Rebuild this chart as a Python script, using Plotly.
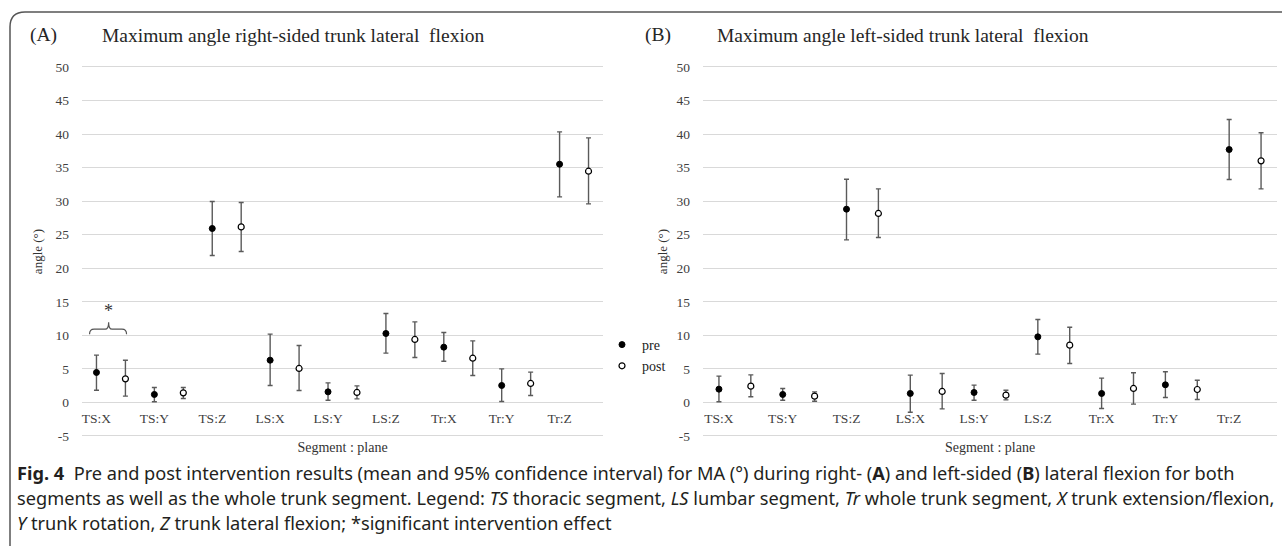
import plotly.graph_objects as go

W, H = 1282, 546

categories = ["TS:X", "TS:Y", "TS:Z", "LS:X", "LS:Y", "LS:Z", "Tr:X", "Tr:Y", "Tr:Z"]
y_ticks = [-5, 0, 5, 10, 15, 20, 25, 30, 35, 40, 45, 50]
y_tick_labels = ["-5", "0", "5", "10", "15", "20", "25", "30", "35", "40", "45", "50"]

# Panel A: right-sided lateral flexion (mean, upper and lower 95% CI)
a_pre_mean = [4.47, 1.19, 25.93, 6.30, 1.58, 10.28, 8.24, 2.53, 35.51]
a_pre_upper = [7.05, 2.24, 29.95, 10.18, 2.92, 13.26, 10.43, 5.01, 40.33]
a_pre_lower = [1.83, 0.10, 21.90, 2.53, 0.34, 7.35, 6.15, 0.15, 30.64]
a_post_mean = [3.52, 1.43, 26.17, 5.07, 1.49, 9.39, 6.60, 2.83, 34.47]
a_post_upper = [6.30, 2.24, 29.80, 8.49, 2.47, 12.01, 9.18, 4.52, 39.43]
a_post_lower = [0.94, 0.60, 22.50, 1.79, 0.54, 6.71, 4.02, 1.04, 29.60]

# Panel B: left-sided lateral flexion
b_pre_mean = [1.98, 1.19, 28.81, 1.34, 1.49, 9.78, 1.34, 2.63, 37.70]
b_pre_upper = [3.92, 2.09, 33.28, 4.07, 2.58, 12.37, 3.62, 4.57, 42.18]
b_pre_lower = [0.10, 0.34, 24.23, -1.45, 0.34, 7.20, -0.90, 0.74, 33.23]
b_post_mean = [2.43, 0.94, 28.17, 1.64, 1.09, 8.54, 2.09, 1.93, 36.01]
b_post_upper = [4.11, 1.58, 31.84, 4.32, 1.83, 11.22, 4.42, 3.32, 40.19]
b_post_lower = [0.84, 0.19, 24.59, -0.95, 0.39, 5.81, -0.25, 0.44, 31.84]

SERIF = "Liberation Serif, Times New Roman, serif"
SANS = "Noto Sans, Open Sans, sans-serif"
GRID = "#d9d9d9"
TXT = "#404040"
ERR = "#5a5a5a"


def px(p):
    return p / W


def py(p):
    return 1 - p / H


pos_pre = list(range(len(categories)))
pos_post = [i + 0.5 for i in pos_pre]


def err(mean, upper, lower):
    return dict(type="data", symmetric=False,
                array=[u - m for u, m in zip(upper, mean)],
                arrayminus=[m - l for m, l in zip(mean, lower)],
                color=ERR, thickness=1.4, width=2.5)


fig = go.Figure()
for xa, ya, pre_m, pre_u, pre_l, post_m, post_u, post_l, show in [
    ("x", "y", a_pre_mean, a_pre_upper, a_pre_lower, a_post_mean, a_post_upper, a_post_lower, True),
    ("x2", "y2", b_pre_mean, b_pre_upper, b_pre_lower, b_post_mean, b_post_upper, b_post_lower, False),
]:
    fig.add_trace(go.Scatter(
        x=pos_pre, y=pre_m, mode="markers", name="pre", legendgroup="pre",
        showlegend=show, xaxis=xa, yaxis=ya, error_y=err(pre_m, pre_u, pre_l),
        marker=dict(color="black", size=6, line=dict(color="black", width=1)),
    ))
    fig.add_trace(go.Scatter(
        x=pos_post, y=post_m, mode="markers", name="post", legendgroup="post",
        showlegend=show, xaxis=xa, yaxis=ya, error_y=err(post_m, post_u, post_l),
        marker=dict(color="white", size=6, line=dict(color="black", width=1.2)),
    ))

ypad = 0.2
ydom = [py(436 + ypad * 6.709), py(67 - ypad * 6.709)]
x_axis_pos = py(402.3)


def xaxis_cfg(d0, d1):
    return dict(
        domain=[px(d0), px(d1)], range=[-0.25, 8.75], anchor="free", position=x_axis_pos,
        tickmode="array", tickvals=pos_pre, ticktext=categories,
        showgrid=False, zeroline=False, showline=False, ticks="", ticklabelstandoff=6,
        tickfont=dict(family=SERIF, size=13.5, color=TXT),
        title=dict(text="Segment : plane", font=dict(family=SERIF, size=14, color="#333333"), standoff=17),
        automargin=False, fixedrange=True,
    )


def yaxis_cfg(anchor, standoff):
    return dict(
        domain=ydom, range=[-5 - ypad, 50 + ypad], anchor=anchor,
        tickmode="array", tickvals=y_ticks, ticktext=y_tick_labels,
        showgrid=True, gridcolor=GRID, gridwidth=1, zeroline=False, showline=False, ticks="",
        tickfont=dict(family=SERIF, size=13.5, color=TXT), ticklabelstandoff=12,
        title=dict(text="angle (°)", font=dict(family=SERIF, size=13, color="#333333"), standoff=standoff),
        automargin=False, fixedrange=True,
    )


fig.update_layout(
    width=W, height=H, template="none",
    margin=dict(l=0, r=0, t=0, b=0, pad=0),
    paper_bgcolor="white", plot_bgcolor="white",
    xaxis=xaxis_cfg(82, 603), yaxis=yaxis_cfg("x", 9),
    xaxis2=xaxis_cfg(703, 1277), yaxis2=yaxis_cfg("x2", 5),
    showlegend=True,
    legend=dict(x=px(602), y=py(329), xanchor="left", yanchor="top",
                font=dict(family=SERIF, size=14, color="#222222"),
                bgcolor="rgba(0,0,0,0)", itemsizing="trace", tracegroupgap=0),
)

annotations = [
    dict(text="(A)", x=px(28), y=py(35), xanchor="left", yanchor="middle"),
    dict(text="Maximum angle right-sided trunk lateral\u00a0 flexion", x=px(100), y=py(35), xanchor="left", yanchor="middle"),
    dict(text="(B)", x=px(643), y=py(35), xanchor="left", yanchor="middle"),
    dict(text="Maximum angle left-sided trunk lateral\u00a0 flexion", x=px(715), y=py(35), xanchor="left", yanchor="middle"),
]
for a in annotations:
    a.update(xref="paper", yref="paper", showarrow=False, font=dict(family=SERIF, size=19.5, color="#262626"))

# significance marker on panel A
annotations.append(dict(text="*", x=0.21, y=13.6, xref="x", yref="y", showarrow=False,
                        font=dict(family=SERIF, size=18, color="#333333")))

caption = [
    "<b>Fig. 4</b>\u00a0\u00a0Pre and post intervention results (mean and 95% confidence interval) for MA (°) during right- (<b>A</b>) and left-sided (<b>B</b>) lateral flexion for both",
    "segments as well as the whole trunk segment. Legend: <i>TS</i> thoracic segment, <i>LS</i> lumbar segment, <i>Tr</i> whole trunk segment, <i>X</i> trunk extension/flexion,",
    "<i>Y</i> trunk rotation, <i>Z</i> trunk lateral flexion; *significant intervention effect",
]
for i, line in enumerate(caption):
    annotations.append(dict(text=line, x=px(15), y=py(473 + 24.8 * i), xref="paper", yref="paper",
                            xanchor="left", yanchor="middle", showarrow=False,
                            font=dict(family=SANS, size=18.2, color="#231f20")))
fig.update_layout(annotations=annotations)

shapes = [
    # rounded frame
    dict(type="path", xref="paper", yref="paper",
         path=f"M {px(10)},{py(546)} L {px(10)},{py(27)} Q {px(10)},{py(12)} {px(25)},{py(12)} L 1,{py(12)}",
         line=dict(color="#555555", width=1.5)),
    # brace over TS:X pair
    dict(type="path", xref="x", yref="y",
         path="M -0.12,10.18 Q -0.12,10.92 -0.04,10.92 L 0.15,10.92 Q 0.21,10.92 0.21,11.97 "
              "Q 0.21,10.92 0.27,10.92 L 0.44,10.92 Q 0.52,10.92 0.52,10.18",
         line=dict(color="#555555", width=1.2)),
]
fig.update_layout(shapes=shapes)

fig.write_html(
    "out.html",
    config={"displayModeBar": False, "staticPlot": True},
    post_script="document.body.style.margin='0';document.body.style.overflow='hidden';",
)
